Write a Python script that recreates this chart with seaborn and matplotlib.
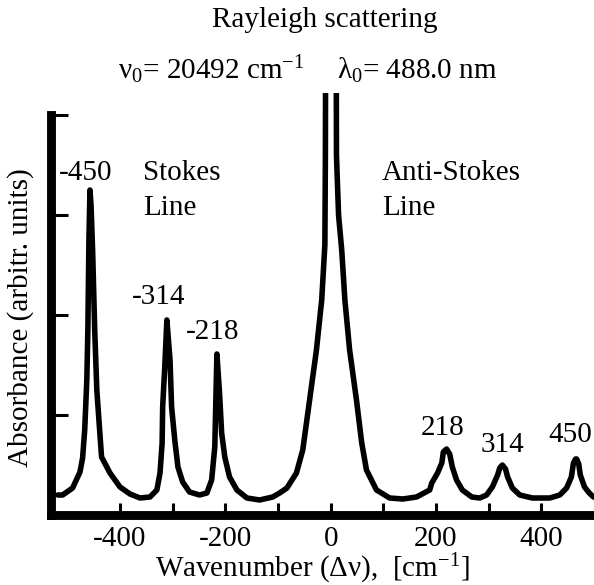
import matplotlib
matplotlib.use("Agg")
import matplotlib.pyplot as plt
import seaborn as sns
import pandas as pd

# ---- data (wavenumber shift, absorbance) ----
wavenumber = [-518, -509, -490, -476, -471, -467, -463, -461, -459, -457, -455, -452,
              -448, -444, -440, -435, -419, -400, -381, -362, -343, -330, -324, -320,
              -319, -315, -311, -305, -302, -296, -290, -281, -268, -249, -235, -226,
              -220, -218, -216, -211, -207, -201, -192, -178, -159, -135, -110, -97,
              -83, -65, -53, -40, -27, -17, -11, -10, 1, 11, 15, 21, 27, 36, 49, 59,
              68, 87, 112, 137, 163, 188, 192, 203, 211, 214, 220, 226, 231, 239, 250,
              268, 283, 296, 307, 317, 321, 326, 332, 336, 345, 359, 383, 416, 435,
              448, 457, 461, 465, 467, 471, 474, 482, 491, 499, 510]
absorbance = [0.20, 0.20, 0.27, 0.43, 0.57, 0.85, 1.35, 1.85, 2.75, 3.25, 3.10, 2.65,
              1.85, 1.25, 0.95, 0.58, 0.42, 0.28, 0.21, 0.17, 0.18, 0.25, 0.42, 0.72,
              1.08, 1.48, 1.95, 1.55, 1.08, 0.75, 0.48, 0.33, 0.23, 0.20, 0.22, 0.35,
              0.68, 1.15, 1.61, 1.22, 0.82, 0.58, 0.38, 0.25, 0.17, 0.15, 0.18, 0.22,
              0.27, 0.42, 0.65, 1.15, 1.65, 2.15, 2.70, 3.60, 30.0, 3.60, 3.00, 2.65,
              2.15, 1.65, 1.15, 0.72, 0.45, 0.25, 0.17, 0.16, 0.18, 0.25, 0.32, 0.42,
              0.52, 0.63, 0.66, 0.61, 0.48, 0.35, 0.25, 0.18, 0.17, 0.20, 0.28, 0.40,
              0.47, 0.50, 0.46, 0.38, 0.27, 0.20, 0.17, 0.17, 0.20, 0.27, 0.38, 0.52,
              0.56, 0.56, 0.51, 0.40, 0.28, 0.22, 0.18, 0.17]

peak_labels = ["-450", "-314", "-218", "218", "314", "450"]
major_ticks = [-400, -200, 0, 200, 400]
minor_ticks = [-300, -100, 100, 300]
y_ticks = [1, 2, 3, 4]

df = pd.DataFrame({"wavenumber": wavenumber, "absorbance": absorbance})

sns.set_style("ticks")
plt.rcParams["font.family"] = ["Liberation Serif", "DejaVu Serif"]
plt.rcParams["mathtext.fontset"] = "custom"
plt.rcParams["mathtext.rm"] = "Liberation Serif"
plt.rcParams["mathtext.it"] = "Liberation Serif:italic"
plt.rcParams["axes.unicode_minus"] = False
plt.rcParams["axes.edgecolor"] = "black"
plt.rcParams["xtick.color"] = "black"
plt.rcParams["ytick.color"] = "black"
plt.rcParams["text.color"] = "black"
plt.rcParams["xtick.labelcolor"] = "black"

FS = 21
W, H = 594, 585
fig = plt.figure(figsize=(W / 100, H / 100), dpi=100)
ax = fig.add_axes([51 / W, 70 / H, (W - 51) / W, (515 - 93) / H])

sns.lineplot(data=df, x="wavenumber", y="absorbance", sort=False, estimator=None,
             color="black", linewidth=4.0, ax=ax)
for ln in ax.lines:
    ln.set_solid_joinstyle("round")
    ln.set_solid_capstyle("round")

ax.set_xlim(-531, 500)
ax.set_ylim(0, 4.22)

for s in ["top", "right"]:
    ax.spines[s].set_visible(False)
ax.spines["left"].set_bounds(0, 4)
for s in ["left", "bottom"]:
    ax.spines[s].set_linewidth(6.4)
    ax.spines[s].set_edgecolor("black")
    ax.spines[s].set_capstyle("projecting")

ax.set_xticks(major_ticks)
ax.set_xticks(minor_ticks, minor=True)
ax.set_xticklabels([str(t) for t in major_ticks])
ax.set_yticks(y_ticks)
ax.set_yticklabels([])
ax.tick_params(axis="x", which="both", direction="in", length=9, width=2.2,
               labelsize=FS, pad=8, colors="black")
ax.tick_params(axis="y", direction="in", length=12, width=2.2, colors="black")
ax.set_xlabel("")
ax.set_ylabel("")


def ftxt(px, py, s, ha="center", **kw):
    fig.text(px / W, 1 - py / H, s, ha=ha, va="center", fontsize=FS,
             color="black", **kw)


ftxt(325, 20, "Rayleigh scattering")
ftxt(118, 70, "ν$_0$= 20492 cm$^{-1}$", ha="left")
ftxt(337, 70, "λ$_0$= 488.0 nm", ha="left")

ftxt(86, 173, peak_labels[0])
ftxt(159, 297, peak_labels[1])
ftxt(213, 332, peak_labels[2])
ftxt(443, 428, peak_labels[3])
ftxt(502, 445, peak_labels[4])
ftxt(592, 435, peak_labels[5], ha="right")

ftxt(143, 173, "Stokes", ha="left")
ftxt(143, 208, "Line", ha="left")
ftxt(382, 173, "Anti-Stokes", ha="left")
ftxt(382, 208, "Line", ha="left")

ftxt(312, 569, "Wavenumber (Δν),  [cm$^{-1}$]")
ftxt(21, 318, "Absorbance (arbitr. units)", rotation=90)

fig.savefig("out.png", dpi=100)
